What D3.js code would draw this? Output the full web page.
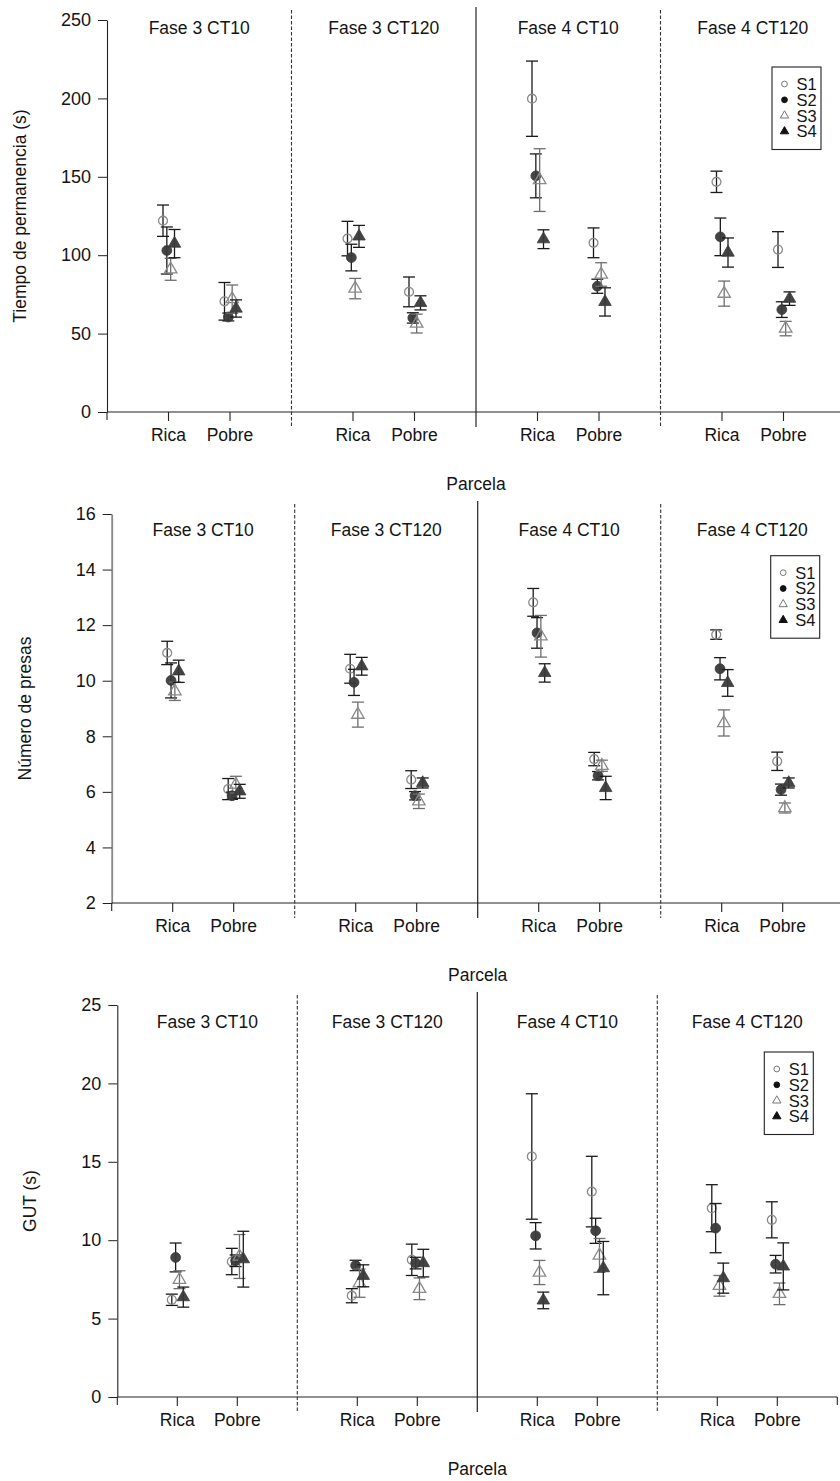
<!DOCTYPE html>
<html>
<head>
<meta charset="utf-8">
<script src="https://cdn.jsdelivr.net/npm/d3@7"></script>
<style>
  html, body { margin: 0; padding: 0; background: #fff; }
  svg { display: block; }
</style>
</head>
<body>
<script>
// Facets, parcels and series shared by the three panels
const facets = ["Fase 3 CT10", "Fase 3 CT120", "Fase 4 CT10", "Fase 4 CT120"];
const parcels = ["Rica", "Pobre"];
const seriesNames = ["S1", "S2", "S3", "S4"];

// Group order for every array below:
// F3CT10 Rica, F3CT10 Pobre, F3CT120 Rica, F3CT120 Pobre,
// F4CT10 Rica, F4CT10 Pobre, F4CT120 Rica, F4CT120 Pobre

// Tiempo de permanencia (s): means and errors
const tiempoS1 = [122, 70.6, 110.6, 76.6, 199.8, 107.9, 146.8, 103.6];
const tiempoS2 = [103, 60.6, 98.5, 60.0, 150.6, 80.2, 111.7, 65.3];
const tiempoS3 = [91, 72.0, 78.7, 56.4, 147.9, 87.7, 75.5, 53.2];
const tiempoS4 = [107.4, 66.0, 112.0, 69.6, 110.2, 70.2, 101.7, 72.3];
const tiempoS1err = [10, 12, 11, 9.5, 24, 9.5, 6.8, 11.4];
const tiempoS2err = [15, 2.5, 8.5, 3.3, 14, 4.5, 12, 5];
const tiempoS3err = [7, 9, 6.5, 6, 20, 7.5, 8, 4.6];
const tiempoS4err = [9, 5.5, 7, 4.5, 6, 9, 9.3, 4.3];
const tiempoTicks = [0, 50, 100, 150, 200, 250];

// Número de presas: means and errors
const presasS1 = [11.0, 6.10, 10.43, 6.44, 12.82, 7.18, 11.66, 7.10];
const presasS2 = [10.01, 5.86, 9.94, 5.86, 11.72, 6.58, 10.43, 6.08];
const presasS3 = [9.62, 6.26, 8.78, 5.66, 11.60, 6.94, 8.48, 5.42];
const presasS4 = [10.34, 6.02, 10.52, 6.32, 10.28, 6.14, 9.92, 6.32];
const presasS1err = [0.42, 0.38, 0.52, 0.32, 0.50, 0.24, 0.17, 0.33];
const presasS2err = [0.63, 0.13, 0.47, 0.15, 0.55, 0.15, 0.40, 0.20];
const presasS3err = [0.33, 0.30, 0.45, 0.26, 0.75, 0.20, 0.47, 0.18];
const presasS4err = [0.40, 0.25, 0.32, 0.18, 0.33, 0.42, 0.48, 0.18];
const presasTicks = [2, 4, 6, 8, 10, 12, 14, 16];

// GUT (s): means and errors
const gutS1 = [6.20, 8.64, 6.46, 8.75, 15.34, 13.10, 12.04, 11.30];
const gutS2 = [8.90, 8.69, 8.39, 8.54, 10.28, 10.60, 10.77, 8.47];
const gutS3 = [7.48, 8.96, 7.26, 6.90, 7.94, 9.03, 7.09, 6.58];
const gutS4 = [6.37, 8.79, 7.73, 8.54, 6.16, 8.22, 7.58, 8.33];
const gutS1err = [0.36, 0.84, 0.45, 1.00, 4.00, 2.25, 1.50, 1.15];
const gutS2err = [0.92, 0.37, 0.33, 0.37, 0.84, 0.80, 1.57, 0.56];
const gutS3err = [0.57, 1.40, 0.90, 0.69, 0.77, 1.08, 0.66, 0.69];
const gutS4err = [0.64, 1.78, 0.70, 0.88, 0.53, 1.70, 0.96, 1.50];
const gutTicks = [0, 5, 10, 15, 20, 25];

const panels = [
  { label: "Tiempo de permanencia (s)", ticks: tiempoTicks,
    means: [tiempoS1, tiempoS2, tiempoS3, tiempoS4],
    errs: [tiempoS1err, tiempoS2err, tiempoS3err, tiempoS4err] },
  { label: "Número de presas", ticks: presasTicks,
    means: [presasS1, presasS2, presasS3, presasS4],
    errs: [presasS1err, presasS2err, presasS3err, presasS4err] },
  { label: "GUT (s)", ticks: gutTicks,
    means: [gutS1, gutS2, gutS3, gutS4],
    errs: [gutS1err, gutS2err, gutS3err, gutS4err] }
];

// Page geometry for each panel
const layouts = [
  { x0: 107, x1: 845, yTop: 20, yBot: 412, titleY: 34.3, legendTop: 67, axisColor: "#222" },
  { x0: 111.7, x1: 843.7, yTop: 514, yBot: 903, titleY: 535.7, legendTop: 555.7, axisColor: "#888" },
  { x0: 117.3, x1: 837.3, yTop: 1005, yBot: 1397, titleY: 1027.7, legendTop: 1052, axisColor: "#222" }
];

// Marker styles per series
const markerStyle = [
  { type: d3.symbolCircle, size: 62, fill: "none", stroke: "#8a8a8a", bar: "#1a1a1a" },
  { type: d3.symbolCircle, size: 76, fill: "#3a3a3a", stroke: "#3a3a3a", bar: "#1a1a1a" },
  { type: d3.symbolTriangle, size: 68, fill: "none", stroke: "#8a8a8a", bar: "#6e6e6e" },
  { type: d3.symbolTriangle, size: 68, fill: "#3a3a3a", stroke: "#3a3a3a", bar: "#1a1a1a" }
];

const FONT = "'Liberation Sans', Arial, Helvetica, sans-serif";
const TEXT = "#141414";

const svg = d3.select("body").append("svg")
  .attr("width", 840).attr("height", 1481)
  .style("font-family", FONT);

svg.append("rect").attr("width", 840).attr("height", 1481).attr("fill", "#fff");

panels.forEach((p, i) => {
  const L = layouts[i];
  const g = svg.append("g");

  const y = d3.scaleLinear()
    .domain([p.ticks[0], p.ticks[p.ticks.length - 1]])
    .range([L.yBot, L.yTop]);
  const fx = d3.scaleBand().domain(facets).range([L.x0, L.x1]);
  const px = d3.scalePoint().domain(parcels).range([0, fx.bandwidth()]).padding(1);
  const sx = d3.scalePoint().domain(seriesNames).range([-5.5, 6]);

  // y axis
  const yAxis = d3.axisLeft(y).tickValues(p.ticks).tickSize(9).tickPadding(7).tickSizeOuter(0);
  const ya = g.append("g").attr("transform", `translate(${L.x0},0)`).call(yAxis);
  ya.attr("font-family", FONT).attr("font-size", 18);
  ya.selectAll("text").attr("fill", TEXT);
  ya.selectAll("line").attr("stroke", "#222");
  ya.select(".domain").attr("stroke", L.axisColor).attr("stroke-width", i === 1 ? 1.8 : 1.1);

  // x axis line, facet boundary ticks and category ticks
  g.append("line")
    .attr("x1", L.x0).attr("x2", L.x1)
    .attr("y1", L.yBot).attr("y2", L.yBot)
    .attr("stroke", "#222").attr("stroke-width", 1.1);

  const bounds = facets.map(f => fx(f)).concat([L.x1]);
  g.selectAll(".btick").data([bounds[0], bounds[4]]).join("line")
    .attr("x1", d => d).attr("x2", d => d)
    .attr("y1", L.yBot).attr("y2", L.yBot + 8)
    .attr("stroke", "#222").attr("stroke-width", 1.1);

  // facet separators
  const sepStyle = [null, "dashed", "solid", "dashed"];
  [1, 2, 3].forEach(k => {
    const dashed = sepStyle[k] === "dashed";
    g.append("line")
      .attr("x1", bounds[k]).attr("x2", bounds[k])
      .attr("y1", L.yTop - (dashed ? 10 : 13)).attr("y2", L.yBot + 15)
      .attr("stroke", dashed ? "#333" : "#222")
      .attr("stroke-width", dashed ? 1.1 : 1.2)
      .attr("stroke-dasharray", dashed ? "3.5,2" : null);
  });

  facets.forEach((f, fi) => {
    const fg = g.append("g").attr("transform", `translate(${fx(f)},0)`);

    // facet title
    fg.append("text")
      .attr("x", fx.bandwidth() / 2).attr("y", L.titleY)
      .attr("text-anchor", "middle")
      .attr("font-size", 17.5).attr("fill", TEXT)
      .text(f);

    parcels.forEach((c, ci) => {
      const cx = px(c);
      fg.append("line")
        .attr("x1", cx).attr("x2", cx)
        .attr("y1", L.yBot).attr("y2", L.yBot + 9)
        .attr("stroke", "#222").attr("stroke-width", 1.1);
      fg.append("text")
        .attr("x", cx).attr("y", L.yBot + 28.5)
        .attr("text-anchor", "middle")
        .attr("font-size", 17.5).attr("fill", TEXT)
        .text(c);

      const gi = fi * 2 + ci;
      seriesNames.forEach((s, si) => {
        const m = p.means[si][gi];
        const e = p.errs[si][gi];
        const st = markerStyle[si];
        const xx = cx + sx(s);
        const bar = fg.append("g").attr("stroke", st.bar).attr("stroke-width", 1.3);
        bar.append("line").attr("x1", xx).attr("x2", xx).attr("y1", y(m - e)).attr("y2", y(m + e));
        bar.append("line").attr("x1", xx - 6).attr("x2", xx + 6).attr("y1", y(m - e)).attr("y2", y(m - e));
        bar.append("line").attr("x1", xx - 6).attr("x2", xx + 6).attr("y1", y(m + e)).attr("y2", y(m + e));
        fg.append("path")
          .attr("d", d3.symbol().type(st.type).size(st.size)())
          .attr("transform", `translate(${xx},${y(m)})`)
          .attr("fill", st.fill)
          .attr("fill-opacity", st.fill === "none" ? null : 0.95)
          .attr("stroke", st.stroke)
          .attr("stroke-width", st.fill === "none" ? 1.3 : 0.8);
      });
    });
  });

  // axis titles
  g.append("text")
    .attr("transform", `translate(${L.x0 - 81},${(L.yTop + L.yBot) / 2}) rotate(-90)`)
    .attr("text-anchor", "middle")
    .attr("font-size", 17.5).attr("fill", TEXT)
    .text(p.label);
  g.append("text")
    .attr("x", (L.x0 + L.x1) / 2).attr("y", L.yBot + 77.5)
    .attr("text-anchor", "middle")
    .attr("font-size", 17.5).attr("fill", TEXT)
    .text("Parcela");

  // legend
  const lw = 49, lh = 82.5;
  const lx = L.x1 - 24 - lw, ly = L.legendTop;
  const lg = g.append("g").attr("transform", `translate(${lx},${ly})`);
  lg.append("rect").attr("width", lw).attr("height", lh)
    .attr("fill", "#fff").attr("stroke", "#222").attr("stroke-width", 1.1);
  const rowY = [17, 32.8, 48.6, 64.4];
  seriesNames.forEach((s, si) => {
    const st = markerStyle[si];
    lg.append("path")
      .attr("d", d3.symbol().type(st.type).size(st.type === d3.symbolCircle ? 26 : 30)())
      .attr("transform", `translate(12.5,${rowY[si]})`)
      .attr("fill", st.fill === "none" ? "none" : "#111")
      .attr("stroke", st.fill === "none" ? "#777" : "#111")
      .attr("stroke-width", 1);
    lg.append("text")
      .attr("x", 24.5).attr("y", rowY[si] + 6)
      .attr("font-size", 16.5).attr("fill", TEXT)
      .text(s);
  });
});
</script>
</body>
</html>
